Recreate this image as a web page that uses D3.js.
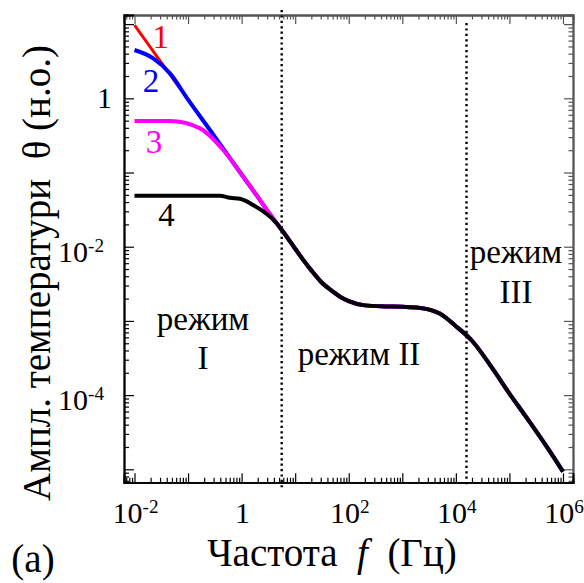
<!DOCTYPE html>
<html>
<head>
<meta charset="utf-8">
<script src="https://cdn.jsdelivr.net/npm/d3@7"></script>
<style>
  body { margin: 0; background: #fff; }
  text { font-family: "Liberation Serif", "DejaVu Serif", serif; fill: #000; white-space: pre; }
</style>
</head>
<body>
<svg id="chart" width="584" height="583"></svg>
<script>
// Low-frequency parts of the four curves: [frequency Hz, amplitude]
const curve1Head = [[0.01, 9.7], [0.03, 3.2], [0.1, 0.97], [0.3, 0.32], [1, 0.094], [2, 0.047], [3.3, 0.028]];
const curve2Head = [[0.01, 4.48], [0.0224, 3.46], [0.046, 2.17], [0.1, 0.96], [0.3, 0.32], [1, 0.094], [2, 0.047], [3.3, 0.028]];
const curve3Head = [[0.01, 0.494], [0.046, 0.494], [0.167, 0.394], [0.454, 0.201], [1, 0.094], [2, 0.047], [3.3, 0.028]];
const curve4Head = [[0.01, 0.0487], [0.394, 0.0487], [0.605, 0.0457], [0.93, 0.0444], [1.64, 0.0365], [4.5, 0.0207]];
// Shared high-frequency part (all curves coincide here)
const commonTail = [[6, 0.0158], [10, 0.0094], [14, 0.0067], [20, 0.0048], [30, 0.0034], [50, 0.0025],
  [70, 0.0021], [100, 0.00185], [200, 0.00162], [500, 0.00157], [1000, 0.00155], [2000, 0.00151],
  [5000, 0.00126], [1e4, 0.00085], [2e4, 0.00054], [5e4, 0.00022], [1e5, 0.000105], [2e5, 0.000052],
  [5e5, 0.00002], [1e6, 0.0000093]];

const seriesNames = ["1", "2", "3", "4"];
const seriesColors = ["#ff0000", "#0000ff", "#ff00ff", "#000000"];
const seriesWidths = [3, 4, 4, 4];
// Label anchor points [frequency, amplitude] for the curve numbers
const seriesLabelAt = [[0.031, 4.8], [0.0204, 1.23], [0.0231, 0.183], [0.0395, 0.019]];

// Regime boundaries (Hz)
const regimeBounds = [5.6, 15800];

// Axis ranges (log10) and labelled decades
const xLogDomain = [-2.196, 6.187];
const yLogDomain = [-5.175, 1.123];
const xLabelExps = [-2, 0, 2, 4, 6];
const yLabelExps = [0, -2, -4];

const svg = d3.select("#chart");
const L = 124, R = 573, T = 15, B = 482.3;
const TICK_FONT = 30, TEXT_FONT = 33, TITLE_FONT = 39;

const x = d3.scaleLog().domain(xLogDomain.map(e => Math.pow(10, e))).range([L, R]);
const y = d3.scaleLog().domain(yLogDomain.map(e => Math.pow(10, e))).range([B, T]);

function decadeTicks(logDomain) {
  const lo = Math.floor(logDomain[0]), hi = Math.ceil(logDomain[1]);
  const major = [], minor = [];
  for (let e = lo; e <= hi; e++) {
    const b = Math.pow(10, e);
    if (e >= logDomain[0] && e <= logDomain[1]) major.push(b);
    for (let k = 2; k <= 9; k++) {
      const v = k * b, lv = Math.log10(v);
      if (lv >= logDomain[0] && lv <= logDomain[1]) minor.push(v);
    }
  }
  return { major, minor };
}
const xt = decadeTicks(xLogDomain), yt = decadeTicks(yLogDomain);

// Frame with inward ticks on all four sides
function drawAxis(axisGen, scale, ticks, transform, majorLen, minorLen, color) {
  const gMin = svg.append("g").attr("transform", transform)
    .call(axisGen(scale).tickValues(ticks.minor).tickSize(-minorLen).tickFormat(""));
  const gMaj = svg.append("g").attr("transform", transform)
    .call(axisGen(scale).tickValues(ticks.major).tickSize(-majorLen).tickFormat(""));
  [gMin, gMaj].forEach(g => {
    g.selectAll("line").attr("stroke", color).attr("stroke-width", 1.2);
    g.select(".domain").attr("stroke", color).attr("stroke-width", 1.8);
  });
}
drawAxis(d3.axisTop, x, xt, `translate(0,${T})`, 9, 4.5, "#555");
drawAxis(d3.axisRight, y, yt, `translate(${R},0)`, 9, 4.5, "#555");
drawAxis(d3.axisBottom, x, xt, `translate(0,${B})`, 9, 4.5, "#000");
drawAxis(d3.axisLeft, y, yt, `translate(${L},0)`, 10, 5, "#000");

function label(px, py, anchor, size, color) {
  return svg.append("text")
    .attr("x", px).attr("y", py)
    .attr("text-anchor", anchor)
    .attr("font-size", size)
    .style("fill", color || "#000");
}
function powLabel(t, exp) {
  if (exp === 0) { t.text("1"); return; }
  t.append("tspan").text("10");
  t.append("tspan").attr("font-size", TICK_FONT * 0.64).attr("dy", -10)
    .text(exp < 0 ? "-" + (-exp) : String(exp));
}

// Tick labels
xLabelExps.forEach(e => {
  const t = label(x(Math.pow(10, e)) + 1, 523, "middle", TICK_FONT);
  powLabel(t, e);
});
yLabelExps.forEach(e => {
  const py = y(Math.pow(10, e));
  const t = label(e === 0 ? 112 : 104, py + (e === 0 ? 10 : 15), "end", TICK_FONT);
  powLabel(t, e);
});

// Regime boundaries
regimeBounds.forEach((f, i) => {
  svg.append("line")
    .attr("x1", x(f)).attr("x2", x(f))
    .attr("y1", i === 0 ? T - 5 : T + 8).attr("y2", B + 5)
    .attr("stroke", "#000").attr("stroke-width", 2.4)
    .attr("stroke-dasharray", "2.2,3.2");
});

// Curves
const line = d3.line().x(d => x(d[0])).y(d => y(d[1])).curve(d3.curveMonotoneX);
const heads = [curve1Head, curve2Head, curve3Head, curve4Head];
heads.forEach((h, i) => {
  svg.append("path")
    .datum(h.concat(commonTail))
    .attr("d", line)
    .attr("fill", "none")
    .attr("stroke", seriesColors[i])
    .attr("stroke-width", seriesWidths[i])
    .attr("stroke-linejoin", "round");
});

// Curve numbers
seriesNames.forEach((n, i) => {
  const p = seriesLabelAt[i];
  label(x(p[0]), y(p[1]), "middle", TEXT_FONT, seriesColors[i]).text(n);
});

// Regime captions
label(203, 330, "middle", TEXT_FONT).text("режим");
label(203, 369, "middle", TEXT_FONT).text("I");
label(359, 365, "middle", TEXT_FONT).text("режим II");
label(516, 263, "middle", TEXT_FONT).text("режим");
label(516, 303, "middle", TEXT_FONT).text("III");

// Axis titles
const xTitle = label(332, 566, "middle", TITLE_FONT);
xTitle.append("tspan").text("Частота  ");
xTitle.append("tspan").style("font-style", "italic").text("f");
xTitle.append("tspan").text("  (Гц)");

svg.append("text")
  .attr("transform", "translate(50,273) rotate(-90)")
  .attr("text-anchor", "middle")
  .attr("font-size", TITLE_FONT)
  .text("Ампл. температури  θ (н.о.)");

label(33, 572, "middle", TITLE_FONT).text("(a)");
</script>
</body>
</html>
